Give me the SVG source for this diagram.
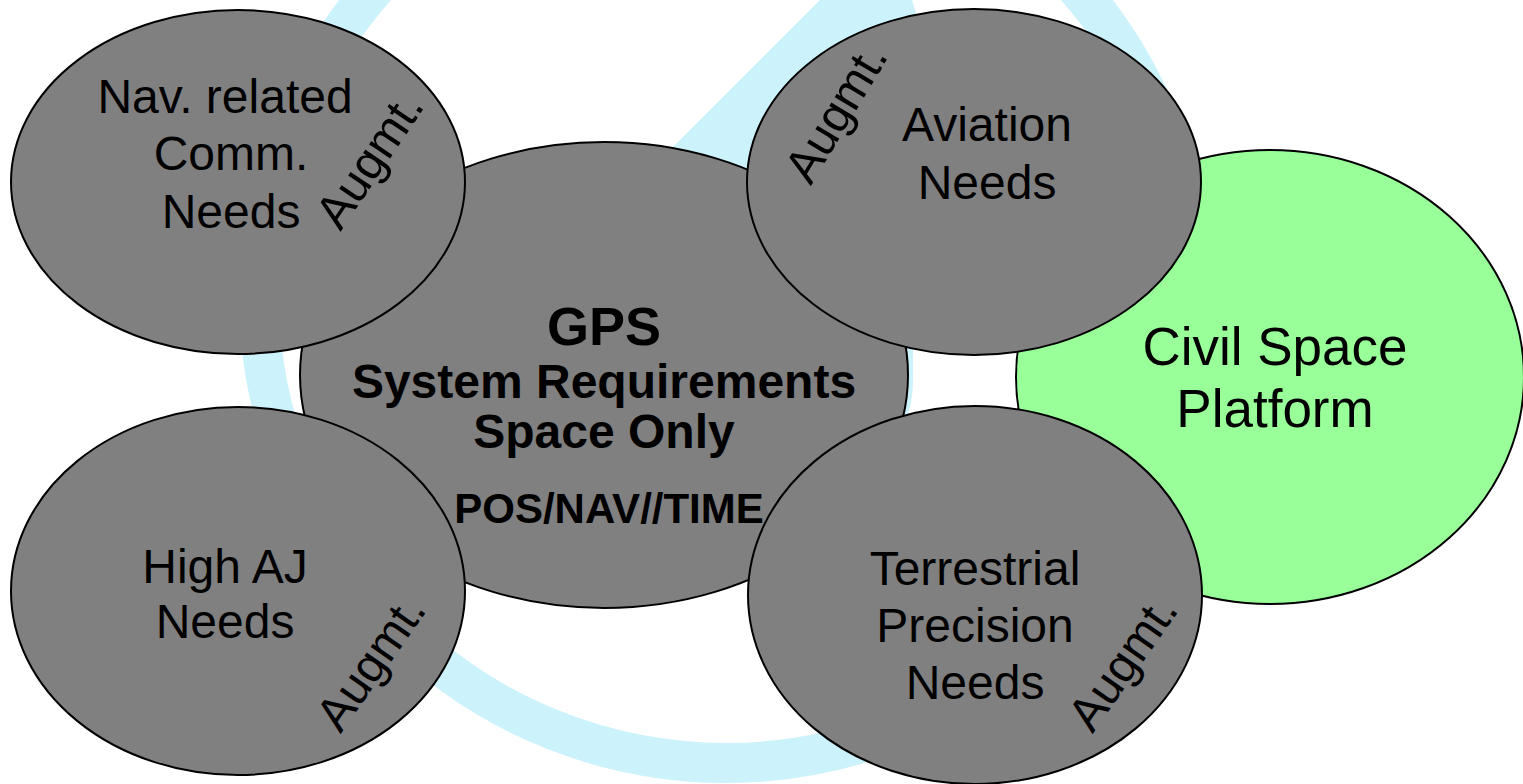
<svg xmlns="http://www.w3.org/2000/svg" width="1523" height="784" viewBox="0 0 1523 784">
<style>
.node{fill:#808080;stroke:#000;stroke-width:2}
.civil{fill:#99FF99;stroke:#000;stroke-width:2}
.t{font-family:"Liberation Sans",Arial,sans-serif;font-size:48px;fill:#000;text-anchor:middle}
.big{font-size:53px}
.b{font-family:"Liberation Sans",Arial,sans-serif;font-weight:bold;fill:#000;text-anchor:middle}
.orbit{fill:none;stroke:#CCF2FC;stroke-width:40}
.orbitfill{fill:#CCF2FC;stroke:none}
</style>
<rect width="1523" height="784" fill="#fff"/>
<g id="connectors">
<circle class="orbit" cx="726" cy="296" r="467"/>
<path class="orbitfill" d="M845,-25 L600,220 L700,420 L860,470 Q913,440 913,380 L913,340 L925,45 L905,-25 Z"/>
</g>
<g id="civil-space-platform">
<ellipse class="civil" cx="1270" cy="377" rx="254" ry="227"/>
<text class="t big" x="1275" y="365">Civil Space</text>
<text class="t big" x="1275" y="427">Platform</text>
</g>
<g id="gps">
<ellipse class="node" cx="604" cy="375" rx="304" ry="233"/>
</g>
<g id="nav-comm">
<ellipse class="node" cx="238" cy="182" rx="227" ry="172"/>
<text class="t" x="225" y="113">Nav. related</text>
<text class="t" x="231" y="170">Comm.</text>
<text class="t" x="231" y="228">Needs</text>
<text class="t" x="383" y="169" transform="rotate(-56 383 169)">Augmt.</text>
</g>
<g id="aviation">
<ellipse class="node" cx="974" cy="182" rx="227" ry="173"/>
<text class="t" x="987" y="141">Aviation</text>
<text class="t" x="987" y="199">Needs</text>
<text class="t" x="850" y="121" transform="rotate(-59 850 121)">Augmt.</text>
</g>
<g id="high-aj">
<ellipse class="node" cx="238" cy="591" rx="227" ry="184"/>
<text class="t" x="384" y="672" transform="rotate(-55 384 672)">Augmt.</text>
<text class="t" x="225" y="583">High AJ</text>
<text class="t" x="225" y="638">Needs</text>
</g>
<g id="terrestrial">
<ellipse class="node" cx="975" cy="595" rx="227" ry="189"/>
<text class="t" x="975" y="585">Terrestrial</text>
<text class="t" x="975" y="642">Precision</text>
<text class="t" x="975" y="699">Needs</text>
<text class="t" x="1136" y="672" transform="rotate(-55 1136 672)">Augmt.</text>
</g>
<g id="gps-label">
<text class="b" x="604" y="345" font-size="54">GPS</text>
<text class="b" x="604" y="398" font-size="48">System Requirements</text>
<text class="b" x="604" y="448" font-size="48">Space Only</text>
<text class="b" x="609" y="523" font-size="42">POS/NAV//TIME</text>
</g>
</svg>
